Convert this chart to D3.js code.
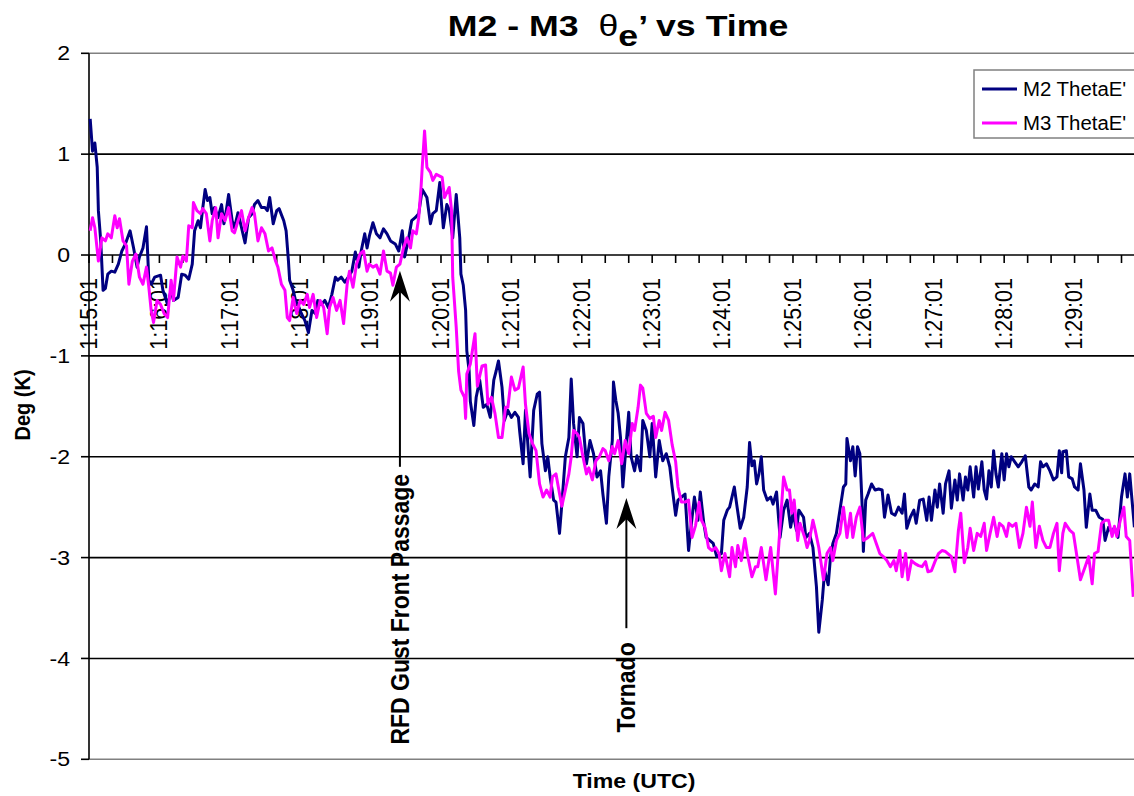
<!DOCTYPE html>
<html>
<head>
<meta charset="utf-8">
<script src="https://cdn.jsdelivr.net/npm/d3@7/dist/d3.min.js"></script>
<style>
  body { margin: 0; background: #fff; }
  svg { display: block; font-family: "Liberation Sans", Arial, sans-serif; }
</style>
</head>
<body>
<div id="chart"></div>
<script>
// seconds after 1:15:01 , deg K
const m2 = [[1,1.35],[3,1.03],[5,1.11],[7,0.87],[8,0.44],[10,0.14],[12,-0.35],[14,-0.33],[16,-0.19],[19,-0.16],[22,-0.17],[25,-0.09],[28,0.04],[31,0.11],[35,0.24],[38,0.07],[41,-0.12],[43,-0.02],[46,0.07],[49,0.28],[51,-0.25],[53,-0.29],[56,-0.22],[61,-0.2],[63,-0.35],[67,-0.49],[70,-0.35],[72,-0.45],[76,-0.42],[79,-0.19],[82,-0.2],[85,-0.24],[88,-0.09],[90,0.24],[93,0.34],[95,0.27],[97,0.47],[99,0.65],[101,0.54],[103,0.57],[105,0.41],[107,0.47],[110,0.37],[113,0.5],[115,0.31],[117,0.44],[119,0.6],[122,0.34],[124,0.27],[127,0.42],[130,0.27],[133,0.12],[136,0.37],[139,0.41],[141,0.5],[144,0.54],[147,0.47],[150,0.47],[152,0.44],[154,0.57],[157,0.31],[160,0.44],[162,0.46],[166,0.34],[168,0.24],[170,-0.06],[171,-0.25],[174,-0.35],[176,-0.45],[178,-0.49],[181,-0.58],[184,-0.65],[187,-0.77],[190,-0.55],[193,-0.58],[195,-0.45],[198,-0.49],[201,-0.45],[204,-0.52],[207,-0.39],[210,-0.22],[212,-0.25],[215,-0.22],[218,-0.27],[221,-0.22],[224,-0.16],[227,0.03],[230,-0.12],[232,0.04],[235,0.21],[237,0.07],[239,0.19],[242,0.32],[245,0.21],[248,0.17],[251,0.26],[254,0.21],[257,0.14],[261,0.11],[264,0.04],[267,0.24],[269,-0.02],[272,0.14],[275,0.34],[278,0.37],[281,0.41],[284,0.65],[288,0.57],[291,0.31],[293,0.41],[296,0.44],[299,0.72],[302,0.27],[305,0.5],[307,0.45],[310,0.17],[313,0.6],[316,0.17],[317,-0.19],[319,-0.3],[321,-0.55],[322,-0.95],[324,-1.15],[325,-1.45],[328,-1.69],[330,-1.41],[333,-1.24],[336,-1.51],[339,-1.48],[342,-1.61],[345,-1.24],[347,-1.15],[349,-1.05],[352,-1.31],[354,-1.64],[357,-1.54],[360,-1.61],[363,-1.56],[366,-1.61],[367,-1.74],[370,-2.07],[372,-1.54],[374,-1.87],[376,-2.2],[379,-1.54],[382,-1.38],[384,-1.36],[386,-1.87],[389,-2.14],[391,-2.0],[393,-2.2],[396,-2.43],[398,-2.45],[401,-2.76],[403,-2.47],[406,-2.0],[409,-1.81],[411,-1.23],[413,-1.67],[416,-2.0],[418,-1.61],[421,-1.67],[424,-2.07],[427,-1.84],[430,-1.97],[433,-2.2],[436,-2.14],[438,-2.37],[441,-2.66],[443,-2.2],[446,-1.84],[447,-1.26],[449,-1.44],[451,-1.57],[453,-1.81],[455,-2.3],[457,-2.0],[460,-1.56],[462,-2.0],[465,-2.14],[467,-1.99],[470,-2.14],[472,-1.64],[475,-1.74],[478,-2.0],[480,-1.67],[483,-2.2],[486,-1.84],[489,-2.04],[492,-1.97],[495,-2.1],[497,-2.3],[500,-2.58],[502,-2.43],[505,-2.4],[508,-2.37],[511,-2.93],[514,-2.6],[516,-2.4],[519,-2.63],[521,-2.35],[524,-2.66],[526,-2.8],[529,-2.83],[532,-2.86],[535,-2.99],[539,-2.96],[541,-2.63],[544,-2.53],[546,-2.5],[550,-2.3],[552,-2.47],[555,-2.71],[558,-2.6],[561,-2.3],[563,-1.86],[565,-2.09],[567,-2.04],[569,-2.27],[571,-2.17],[573,-2.0],[575,-2.33],[578,-2.43],[581,-2.4],[583,-2.47],[586,-2.35],[589,-2.8],[592,-2.53],[595,-2.43],[598,-2.7],[600,-2.56],[603,-2.73],[605,-2.53],[609,-2.6],[611,-2.8],[614,-2.76],[617,-2.9],[620,-3.29],[622,-3.74],[625,-3.42],[627,-3.13],[630,-3.27],[632,-2.99],[634,-2.86],[637,-2.76],[640,-2.53],[643,-2.3],[645,-2.27],[646,-1.82],[649,-2.04],[651,-1.9],[653,-2.19],[655,-1.9],[657,-1.97],[659,-2.5],[660,-2.94],[662,-2.43],[664,-2.37],[667,-2.27],[670,-2.33],[673,-2.32],[676,-2.33],[678,-2.6],[681,-2.38],[684,-2.56],[687,-2.58],[690,-2.5],[693,-2.56],[695,-2.37],[697,-2.71],[700,-2.6],[703,-2.53],[705,-2.66],[708,-2.43],[711,-2.42],[714,-2.63],[716,-2.4],[718,-2.63],[721,-2.33],[723,-2.5],[725,-2.27],[728,-2.56],[730,-2.27],[733,-2.14],[735,-2.51],[738,-2.23],[740,-2.43],[742,-2.17],[745,-2.43],[747,-2.2],[749,-2.33],[751,-2.1],[754,-2.4],[756,-2.1],[758,-2.32],[761,-2.05],[763,-2.33],[765,-2.42],[767,-2.14],[769,-2.3],[771,-1.94],[773,-2.17],[775,-2.3],[778,-1.97],[780,-2.23],[782,-1.97],[784,-2.1],[786,-2.0],[789,-2.05],[792,-2.1],[795,-2.05],[798,-1.99],[801,-2.3],[803,-2.33],[806,-2.27],[809,-2.3],[811,-2.05],[813,-2.1],[816,-2.07],[819,-2.14],[822,-2.23],[825,-2.2],[827,-1.94],[829,-2.16],[830,-1.95],[833,-1.94],[835,-2.2],[838,-2.22],[840,-2.3],[843,-2.33],[845,-2.07],[848,-2.33],[850,-2.7],[853,-2.37],[855,-2.53],[858,-2.53],[861,-2.6],[864,-2.62],[866,-2.83],[869,-2.7],[872,-2.75],[874,-2.7],[877,-2.8],[880,-2.4],[883,-2.17],[885,-2.4],[887,-2.17],[891,-2.7]];

const m3 = [[1,0.24],[3,0.37],[5,0.27],[8,-0.06],[11,0.17],[14,0.14],[16,0.21],[19,0.17],[22,0.39],[24,0.27],[26,0.36],[29,0.14],[32,0.09],[34,-0.29],[37,-0.06],[40,0.01],[43,-0.22],[46,-0.29],[49,-0.12],[51,-0.32],[53,-0.55],[55,-0.67],[58,-0.45],[61,-0.49],[64,-0.58],[67,-0.62],[70,-0.25],[72,-0.45],[75,-0.02],[78,-0.12],[80,-0.01],[83,-0.06],[85,0.29],[88,0.27],[89,0.52],[92,0.44],[95,0.41],[97,0.46],[100,0.41],[103,0.14],[105,0.34],[108,0.47],[110,0.17],[113,0.41],[116,0.34],[119,0.47],[122,0.24],[124,0.22],[127,0.34],[130,0.44],[133,0.24],[136,0.37],[139,0.47],[141,0.41],[144,0.14],[147,0.27],[150,0.21],[153,0.04],[156,0.07],[159,-0.06],[161,-0.12],[164,-0.29],[167,-0.35],[169,-0.62],[171,-0.65],[174,-0.42],[177,-0.58],[180,-0.45],[183,-0.49],[186,-0.39],[188,-0.52],[191,-0.39],[194,-0.62],[197,-0.45],[200,-0.52],[203,-0.78],[205,-0.52],[208,-0.42],[211,-0.55],[214,-0.45],[217,-0.68],[220,-0.29],[222,-0.16],[225,-0.32],[228,-0.09],[231,0.01],[234,0.04],[237,-0.16],[239,-0.09],[242,-0.12],[245,-0.1],[248,-0.19],[251,0.04],[254,-0.16],[257,-0.18],[259,-0.3],[262,-0.12],[265,-0.09],[268,0.07],[271,0.17],[274,0.07],[276,0.24],[279,0.21],[281,0.37],[283,0.67],[284,0.87],[286,1.23],[288,0.87],[291,0.82],[293,0.74],[296,0.8],[301,0.77],[303,0.57],[307,0.67],[309,0.44],[310,-0.22],[313,-0.72],[315,-1.15],[317,-1.34],[320,-1.41],[321,-1.62],[322,-1.18],[325,-1.08],[329,-0.78],[331,-1.3],[335,-1.1],[338,-1.09],[340,-1.48],[343,-1.41],[346,-1.57],[349,-1.81],[352,-1.81],[355,-1.51],[357,-1.51],[360,-1.21],[363,-1.34],[366,-1.32],[370,-1.11],[372,-1.48],[375,-1.77],[378,-1.87],[381,-1.94],[384,-2.27],[387,-2.4],[390,-2.33],[393,-2.4],[395,-2.2],[398,-2.17],[400,-2.3],[403,-2.49],[406,-2.33],[409,-2.17],[411,-2.0],[413,-1.74],[416,-1.77],[418,-1.81],[421,-2.0],[424,-2.17],[426,-2.11],[429,-2.23],[432,-2.04],[435,-2.0],[438,-1.92],[440,-1.94],[443,-2.04],[446,-1.9],[448,-1.97],[451,-1.84],[454,-2.07],[457,-1.84],[460,-1.97],[463,-1.67],[465,-1.74],[468,-1.51],[470,-1.29],[472,-1.32],[475,-1.57],[478,-1.62],[481,-1.6],[483,-1.81],[486,-1.64],[488,-1.74],[491,-1.56],[494,-1.64],[497,-1.88],[500,-2.05],[502,-2.3],[505,-2.45],[508,-2.45],[511,-2.43],[514,-2.8],[517,-2.68],[520,-2.45],[522,-2.63],[525,-2.7],[528,-2.9],[531,-2.93],[534,-2.9],[537,-2.96],[539,-3.13],[542,-2.96],[546,-3.19],[548,-2.9],[551,-3.09],[553,-2.88],[556,-3.03],[559,-2.81],[561,-2.96],[565,-3.19],[568,-3.09],[570,-3.09],[573,-2.9],[577,-3.22],[581,-2.9],[585,-3.36],[588,-2.86],[592,-2.2],[595,-2.33],[597,-2.33],[599,-2.56],[601,-2.43],[604,-2.83],[606,-2.66],[610,-2.8],[612,-2.9],[614,-2.83],[617,-2.63],[619,-2.73],[622,-2.9],[626,-3.22],[629,-2.96],[632,-2.9],[634,-3.03],[637,-2.83],[640,-2.76],[643,-2.5],[646,-2.8],[649,-2.56],[651,-2.8],[654,-2.6],[657,-2.5],[660,-2.83],[664,-2.8],[668,-2.76],[671,-2.86],[674,-2.96],[677,-2.99],[680,-3.03],[683,-3.09],[686,-3.03],[688,-3.13],[691,-2.93],[693,-3.19],[696,-2.96],[698,-3.22],[701,-3.03],[704,-3.06],[707,-3.08],[710,-3.09],[713,-3.04],[715,-3.14],[718,-3.13],[721,-3.04],[724,-2.96],[727,-2.93],[730,-2.94],[732,-2.96],[735,-2.99],[738,-3.14],[741,-2.73],[743,-2.56],[746,-3.05],[749,-2.9],[751,-2.71],[754,-2.93],[757,-2.76],[760,-2.79],[763,-2.66],[765,-2.93],[768,-2.76],[771,-2.6],[774,-2.79],[776,-2.66],[779,-2.69],[782,-2.79],[784,-2.66],[787,-2.69],[790,-2.66],[793,-2.9],[796,-2.76],[799,-2.5],[802,-2.69],[804,-2.45],[807,-2.9],[810,-2.69],[813,-2.83],[816,-2.9],[819,-2.9],[822,-2.76],[825,-2.66],[827,-3.13],[830,-2.76],[832,-2.66],[836,-2.73],[839,-2.76],[842,-2.99],[845,-3.22],[849,-3.09],[852,-2.99],[855,-3.26],[857,-2.96],[860,-2.94],[863,-2.66],[866,-2.63],[869,-2.63],[872,-2.79],[874,-2.69],[876,-2.79],[879,-2.63],[882,-2.5],[884,-2.79],[887,-2.83],[890,-3.39]];

const yTicks = [-5, -4, -3, -2, -1, 0, 1, 2];
const startClock = 1 * 3600 + 15 * 60 + 1;   // 1:15:01
const labelSecs = d3.range(0, 841, 60);
const minorSecs = d3.range(0, 881, 20);

const seriesNames = ["M2 ThetaE'", "M3 ThetaE'"];
const seriesColors = ["#000080", "#FF00FF"];

// sec = when, tip / tail / textTop in deg
const events = [
  {label: "RFD Gust Front Passage", sec: 265, tip: -0.155, tail: -2.1, textTop: -2.17},
  {label: "Tornado", sec: 458, tip: -2.41, tail: -3.70, textTop: -3.84}
];

const W = 1134, H = 796;
const plotLeft = 89, plotTop = 53.3, plotBottom = 759.3;
const pxPerSec = 1.1733;
const sx = 1.1; // the original chart was a bit wider than tall

const x = d3.scaleLinear().domain([0, 900]).range([plotLeft, plotLeft + 900 * pxPerSec]);
const y = d3.scaleLinear().domain([-5, 2]).range([plotBottom, plotTop]);

const fmt = s => {
  let t = startClock + s, h = Math.floor(t / 3600), m = Math.floor(t % 3600 / 60), ss = t % 60;
  return `${h}:${String(m).padStart(2, '0')}:${String(ss).padStart(2, '0')}`;
};

const svg = d3.select('#chart').append('svg').attr('width', W).attr('height', H);

// gridlines
svg.append('g').attr('class', 'grid')
  .selectAll('line').data(yTicks.filter(d => d !== 0))
  .join('line')
  .attr('x1', plotLeft).attr('x2', W)
  .attr('y1', d => y(d)).attr('y2', d => y(d))
  .attr('stroke', d => (d === 2 || d === -5) ? '#808080' : '#000')
  .attr('stroke-width', 1.6);

// y axis
const ya = svg.append('g').attr('class', 'y-axis');
ya.append('line').attr('x1', plotLeft).attr('x2', plotLeft).attr('y1', plotTop).attr('y2', plotBottom)
  .attr('stroke', '#000').attr('stroke-width', 1.6);
ya.selectAll('line.tick').data(yTicks).join('line').attr('class', 'tick')
  .attr('x1', plotLeft - 8).attr('x2', plotLeft).attr('y1', d => y(d)).attr('y2', d => y(d))
  .attr('stroke', '#000').attr('stroke-width', 1.6);
ya.selectAll('text').data(yTicks).join('text')
  .attr('transform', d => `translate(70, ${y(d)}) scale(${sx},1)`)
  .attr('text-anchor', 'end').attr('dominant-baseline', 'central')
  .attr('font-size', 21).text(d => d);

// category axis at zero
const xa = svg.append('g').attr('class', 'x-axis');
xa.append('line').attr('x1', plotLeft).attr('x2', W).attr('y1', y(0)).attr('y2', y(0))
  .attr('stroke', '#000').attr('stroke-width', 1.6);
xa.selectAll('line.tick').data(minorSecs).join('line').attr('class', 'tick')
  .attr('x1', d => x(d)).attr('x2', d => x(d)).attr('y1', y(0)).attr('y2', y(0) + 8)
  .attr('stroke', '#000').attr('stroke-width', 1.6);
xa.selectAll('text').data(labelSecs).join('text')
  .attr('transform', d => `translate(${x(d)}, ${y(0) + 23}) scale(${sx},1) rotate(-90)`)
  .attr('text-anchor', 'end').attr('dominant-baseline', 'central')
  .attr('font-size', 21.5).text(fmt);

// series
const line = d3.line().x(d => x(d[0])).y(d => y(d[1]));
svg.append('g').attr('class', 'series')
  .selectAll('path').data([m2, m3])
  .join('path')
  .attr('d', line)
  .attr('fill', 'none')
  .attr('stroke', (d, i) => seriesColors[i])
  .attr('stroke-width', 3)
  .attr('stroke-linejoin', 'round');

// event arrows
const ev = svg.append('g').attr('class', 'events')
  .selectAll('g').data(events).join('g');
ev.append('line')
  .attr('x1', d => x(d.sec)).attr('x2', d => x(d.sec))
  .attr('y1', d => y(d.tip) + 20).attr('y2', d => y(d.tail))
  .attr('stroke', '#000').attr('stroke-width', 2);
ev.append('path')
  .attr('d', d => {
    let px = x(d.sec), py = y(d.tip);
    return `M${px},${py}L${px + 10},${py + 31}L${px},${py + 21}L${px - 10},${py + 31}Z`;
  })
  .attr('fill', '#000');
ev.append('text')
  .attr('transform', d => `translate(${x(d.sec)}, ${y(d.textTop)}) scale(${sx},1) rotate(-90)`)
  .attr('text-anchor', 'end').attr('dominant-baseline', 'central')
  .attr('font-size', 23).attr('font-weight', 'bold')
  .text(d => d.label);

// titles
const title = svg.append('text')
  .attr('transform', `translate(618, 36) scale(1.19,1)`)
  .attr('text-anchor', 'middle').attr('font-size', 30).attr('font-weight', 'bold')
  .attr('xml:space', 'preserve');
title.append('tspan').text('M2 - M3  ');
title.append('tspan').attr('font-weight', 'normal').text('θ');
title.append('tspan').attr('dy', 10).text('e');
title.append('tspan').attr('dy', -10).text('’ vs Time');

svg.append('text')
  .attr('transform', `translate(634, 788) scale(${sx},1)`)
  .attr('text-anchor', 'middle').attr('font-size', 21).attr('font-weight', 'bold')
  .text('Time (UTC)');

svg.append('text')
  .attr('transform', `translate(22, 405) scale(${sx},1) rotate(-90)`)
  .attr('text-anchor', 'middle').attr('dominant-baseline', 'central')
  .attr('font-size', 20).attr('font-weight', 'bold')
  .text('Deg (K)');

// legend
const lg = svg.append('g').attr('class', 'legend').attr('transform', 'translate(974, 70)');
lg.append('rect').attr('width', 180).attr('height', 68)
  .attr('fill', '#fff').attr('stroke', '#808080').attr('stroke-width', 1.5);
const li = lg.selectAll('g.item').data(seriesNames).join('g').attr('class', 'item')
  .attr('transform', (d, i) => `translate(0, ${19 + i * 34})`);
li.append('line').attr('x1', 8).attr('x2', 43)
  .attr('stroke', (d, i) => seriesColors[i]).attr('stroke-width', 3);
li.append('text')
  .attr('transform', `translate(49, 0) scale(1.02,1)`)
  .attr('dominant-baseline', 'central').attr('font-size', 20)
  .text(d => d);
</script>
</body>
</html>
